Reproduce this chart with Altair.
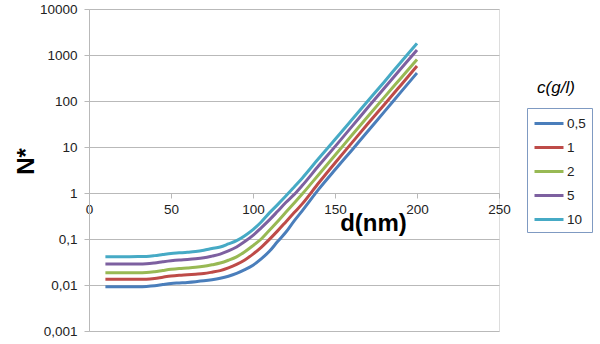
import altair as alt
import pandas as pd

d_nm = [10, 20, 30, 35, 40, 45, 50, 55, 60, 65, 70, 75, 80, 85, 90, 95, 100,
        105, 110, 115, 120, 125, 130, 140, 150, 160, 170, 180, 190, 200]

series_names = ["0,5", "1", "2", "5", "10"]
colors = ["#4a7ebb", "#be4b48", "#98b954", "#7d60a0", "#46aac5"]

n_05 = [0.0092, 0.0092, 0.0092, 0.0093, 0.0096, 0.0102, 0.0108, 0.0111, 0.0114, 0.0118,
        0.0123, 0.013, 0.014, 0.0155, 0.0178, 0.0215, 0.027, 0.037, 0.054, 0.088,
        0.14, 0.245, 0.41, 1.2, 3.2, 8.3, 22, 58, 154, 407]
n_1 = [0.0133, 0.0133, 0.0133, 0.0134, 0.0139, 0.0148, 0.0157, 0.0163, 0.0167, 0.0172,
       0.0178, 0.019, 0.0205, 0.0235, 0.028, 0.035, 0.047, 0.066, 0.098, 0.15,
       0.235, 0.37, 0.58, 1.65, 4.5, 12, 32, 83, 218, 575]
n_2 = [0.0185, 0.0185, 0.0185, 0.0187, 0.0195, 0.0207, 0.0219, 0.0228, 0.0234, 0.0242,
       0.0255, 0.0275, 0.03, 0.0345, 0.041, 0.053, 0.072, 0.1, 0.155, 0.24,
       0.38, 0.6, 0.95, 2.5, 6.6, 17.5, 46, 120, 310, 800]
n_5 = [0.0286, 0.0286, 0.0287, 0.029, 0.0302, 0.032, 0.0337, 0.035, 0.0358, 0.037,
       0.039, 0.0425, 0.047, 0.055, 0.067, 0.088, 0.12, 0.175, 0.26, 0.4,
       0.62, 0.92, 1.45, 3.9, 10.2, 27, 72, 190, 495, 1290]
n_10 = [0.0413, 0.0413, 0.0414, 0.0418, 0.0435, 0.046, 0.0485, 0.05, 0.0515, 0.0535,
        0.057, 0.062, 0.067, 0.078, 0.092, 0.118, 0.16, 0.235, 0.37, 0.56,
        0.86, 1.34, 2.1, 5.6, 14.5, 38, 100, 260, 690, 1790]

y_ticks = [0.001, 0.01, 0.1, 1, 10, 100, 1000, 10000]
x_ticks = [0, 50, 100, 150, 200, 250]

rows = []
for name, vals in zip(series_names, [n_05, n_1, n_2, n_5, n_10]):
    for dv, nv in zip(d_nm, vals):
        rows.append({"d": dv, "N": nv, "c": name})
df = pd.DataFrame(rows)

FONT = "Liberation Sans"
GRID = "#b9b9b9"

lines = alt.Chart(df).mark_line(strokeWidth=3, interpolate="monotone").encode(
    x=alt.X("d:Q",
            scale=alt.Scale(domain=[0, 250], nice=False, zero=False),
            axis=alt.Axis(values=x_ticks, grid=False, offset=-138, title="d(nm)",
                          titleFont=FONT, titleFontSize=24, titleFontWeight="bold",
                          titleColor="#000", titleX=284, titleY=37,
                          titleBaseline="alphabetic", titleAlign="center",
                          labelFont=FONT, labelFontSize=13.5, labelColor="#222",
                          labelFlush=False, labelOverlap=False, labelPadding=4,
                          tickSize=5, tickColor=GRID, domainColor=GRID)),
    y=alt.Y("N:Q",
            scale=alt.Scale(type="log", domain=[0.001, 10000], nice=False),
            axis=alt.Axis(values=y_ticks, grid=True, gridColor=GRID, title="N*",
                          labelExpr="datum.value >= 1 ? format(datum.value, 'd') : replace(format(datum.value, '.3~f'), '.', ',')",
                          titleFont=FONT, titleFontSize=24, titleFontWeight="bold",
                          titleColor="#000", titleX=-63, titleY=152, titleAngle=270,
                          titleAlign="center", titleBaseline="middle",
                          labelFont=FONT, labelFontSize=13.5, labelColor="#222",
                          labelPadding=7, labelOverlap=False, labelFlush=False,
                          tickSize=5, tickColor=GRID, domainColor=GRID)),
    color=alt.Color("c:N",
                    scale=alt.Scale(domain=series_names, range=colors),
                    sort=series_names,
                    legend=alt.Legend(title=None, orient="none", legendX=438, legendY=99,
                                      symbolType="M-1,0H2.625", symbolSize=256,
                                      symbolStrokeWidth=3, labelFont=FONT,
                                      labelFontSize=13.5, labelColor="#222",
                                      labelOffset=15, rowPadding=8, padding=6,
                                      strokeColor="#7f9ac2", cornerRadius=0)),
    order=alt.Order("d:Q"),
)

legend_title = alt.Chart(pd.DataFrame({"t": ["c(g/l)"]})).mark_text(
    font=FONT, fontSize=17, fontStyle="italic", color="#000",
    align="center", baseline="middle"
).encode(text="t:N", x=alt.value(467), y=alt.value(79))

chart = alt.layer(lines, legend_title).properties(
    width=410, height=322,
    autosize=alt.AutoSizeParams(type="none"),
    padding={"left": 89, "top": 9, "right": 101, "bottom": 13},
).configure_view(stroke=None).configure(background="white")

chart.save("out.html", embed_options={"renderer": "svg", "actions": False})
